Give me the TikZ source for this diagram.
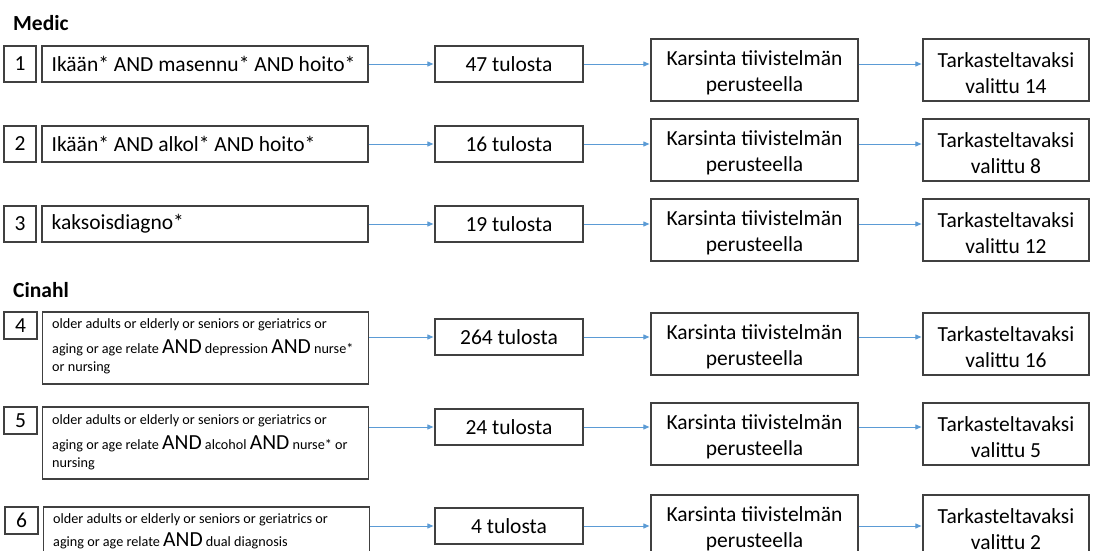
\documentclass[tikz,border=0pt]{standalone}
\usepackage{fontspec}
\setmainfont{Carlito}
\usetikzlibrary{arrows.meta}
\definecolor{boxgray}{HTML}{404040}
\definecolor{arrblue}{HTML}{5B9BD5}
\newcommand{\bigf}{\fontsize{21.5bp}{26bp}\selectfont}
\newcommand{\smallf}{\fontsize{14.2bp}{17bp}\selectfont}
\tikzset{
  box/.style={draw=boxgray, line width=1.2bp, inner sep=0pt, fill=white},
  bigtext/.style={font=\bigf},
  twoline/.style={font=\bigf, align=center, inner sep=0pt},
  title/.style={font=\bigf\bfseries, anchor=base west, inner sep=0pt},
  qline/.style={anchor=base west, inner sep=0pt, font=\smallf},
  arr/.style={draw=arrblue, line width=0.9bp, -{Triangle[length=6bp,width=5bp]}, shorten >=1bp},
}
% #1 id, #2 arrow y, #3 count, #4 selected, #5 centre y of the two right boxes
\newcommand{\resrow}[5]{%
  \node[box, bigtext, minimum width=148bp, minimum height=36bp] (t#1) at (509,#2) {#3 tulosta};
  \node[box, minimum width=207bp, minimum height=62bp] (k#1) at (754.5,#5) {};
  \node[twoline] (kt#1) at ([yshift=-3bp]k#1.center) {Karsinta tiivistelmän\\perusteella};
  \node[box, minimum width=166bp, minimum height=62bp] (r#1) at (1006,#5) {};
  \node[twoline] (rt#1) at ([yshift=-3bp]r#1.center) {Tarkasteltavaksi\\valittu #4};
  \draw[arr] (q#1.east |- t#1.west) -- (t#1.west);
  \draw[arr] (t#1.east) -- (k#1.west |- t#1.east);
  \draw[arr] (k#1.east |- t#1.east) -- (r#1.west |- t#1.east);
}
\begin{document}
\begin{tikzpicture}[x=1bp,y=-1bp]
\useasboundingbox (0,0) rectangle (1093,551);
\clip (0,0) rectangle (1093,551);
\fill[white] (0,0) rectangle (1093,551);

\node[title] (medic) at (13,31) {Medic};

% Medic rows
\node[box, bigtext, minimum width=32bp, minimum height=36bp] (n1) at (20,64) {1};
\node[box, minimum width=326bp, minimum height=36bp] (q1) at (205,64) {};
\node[bigtext, anchor=west, inner sep=0pt] (q1t) at ([xshift=10bp]q1.west) {Ikään* AND masennu* AND hoito*};
\resrow{1}{64}{47}{14}{70}

\node[box, bigtext, minimum width=32bp, minimum height=36bp] (n2) at (20,144) {2};
\node[box, minimum width=326bp, minimum height=36bp] (q2) at (205,144) {};
\node[bigtext, anchor=west, inner sep=0pt] (q2t) at ([xshift=10bp]q2.west) {Ikään* AND alkol* AND hoito*};
\resrow{2}{144}{16}{8}{150}

\node[box, bigtext, minimum width=32bp, minimum height=36bp] (n3) at (20,224) {3};
\node[box, minimum width=326bp, minimum height=36bp] (q3) at (205,224) {};
\node[bigtext, anchor=west, inner sep=0pt] (q3t) at ([xshift=10bp]q3.west) {kaksoisdiagno*};
\resrow{3}{224}{19}{12}{230}

\node[title] (cinahl) at (13,298) {Cinahl};

% Cinahl rows
\node[box, bigtext, minimum width=33bp, minimum height=27bp] (n4) at (20.5,325.5) {4};
\node[box, minimum width=326bp, minimum height=72bp] (q4) at (205.5,348) {};
\node[qline] (q4a) at (52,329) {older adults or elderly or seniors or geriatrics or};
\node[qline] (q4b) at (52,354) {aging or age relate {\bigf AND} depression {\bigf AND} nurse*};
\node[qline] (q4c) at (52,372) {or nursing};
\resrow{4}{337}{264}{16}{344}

\node[box, bigtext, minimum width=33bp, minimum height=27bp] (n5) at (20.5,420.5) {5};
\node[box, minimum width=326bp, minimum height=72bp] (q5) at (205.5,443) {};
\node[qline] (q5a) at (52,424) {older adults or elderly or seniors or geriatrics or};
\node[qline] (q5b) at (52,449) {aging or age relate {\bigf AND} alcohol {\bigf AND} nurse* or};
\node[qline] (q5c) at (52,467) {nursing};
\resrow{5}{427}{24}{5}{434}

\node[box, bigtext, minimum width=33bp, minimum height=27bp] (n6) at (21.5,520.5) {6};
\node[box, minimum width=326bp, minimum height=72bp] (q6) at (206.5,543) {};
\node[qline] (q6a) at (53,523) {older adults or elderly or seniors or geriatrics or};
\node[qline] (q6b) at (53,546) {aging or age relate {\bigf AND} dual diagnosis};
\resrow{6}{526}{4}{2}{526}
\end{tikzpicture}
\end{document}
